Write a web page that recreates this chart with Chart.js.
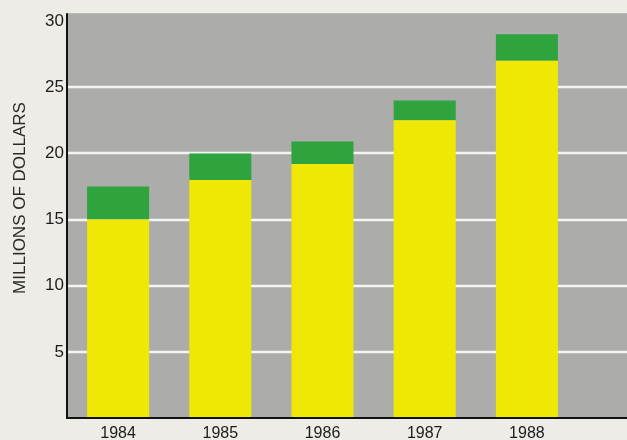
<!DOCTYPE html>
<html>
<head>
<meta charset="utf-8">
<script src="https://cdn.jsdelivr.net/npm/chart.js@4"></script>
<style>
  html, body { margin: 0; padding: 0; background: #edece7; }
  canvas { display: block; }
</style>
</head>
<body>
<canvas id="salesChart" width="627" height="440"></canvas>
<script>
const years = ['1984', '1985', '1986', '1987', '1988'];
const baseRevenue = [15, 18, 19.2, 22.5, 27];
const extraRevenue = [2.5, 2, 1.7, 1.5, 2];
const yTicks = [5, 10, 15, 20, 25, 30];
const yTitle = 'MILLIONS OF DOLLARS';

const FONT = 'Liberation Sans, Arial, sans-serif';

// gray plot panel, white rules and axis lines, run out to the right edge
const panel = {
  id: 'panel',
  beforeDatasetsDraw(chart) {
    const { ctx, chartArea: a, scales: { y } } = chart;
    ctx.save();
    ctx.fillStyle = '#acacaa';
    ctx.fillRect(a.left, a.top, chart.width - a.left, a.bottom - a.top);
    ctx.strokeStyle = '#f4f4f2';
    ctx.lineWidth = 2.5;
    yTicks.filter(v => v < 30).forEach(v => {
      const py = Math.round(y.getPixelForValue(v));
      ctx.beginPath();
      ctx.moveTo(a.left, py);
      ctx.lineTo(chart.width, py);
      ctx.stroke();
    });
    ctx.restore();
  },
  afterDatasetsDraw(chart) {
    const { ctx, chartArea: a } = chart;
    ctx.save();
    ctx.strokeStyle = '#111';
    ctx.lineWidth = 2;
    ctx.beginPath();
    ctx.moveTo(a.left, a.top);
    ctx.lineTo(a.left, a.bottom);
    ctx.lineTo(chart.width, a.bottom);
    ctx.stroke();

    // rotated axis title, sitting a little above the middle of the axis
    ctx.translate(20, 198);
    ctx.rotate(-Math.PI / 2);
    ctx.fillStyle = '#2a2a2a';
    ctx.font = '17px ' + FONT;
    ctx.textAlign = 'center';
    ctx.textBaseline = 'middle';
    ctx.fillText(yTitle, 0, 0);
    ctx.restore();
  }
};

const ctx = document.getElementById('salesChart').getContext('2d');
const salesChart = new Chart(ctx, {
  type: 'bar',
  data: {
    labels: years,
    datasets: [
      {
        label: 'Base',
        data: baseRevenue,
        backgroundColor: '#eee804',
        borderWidth: 0
      },
      {
        label: 'Extra',
        data: extraRevenue,
        backgroundColor: '#2ea33e',
        borderWidth: 0
      }
    ]
  },
  options: {
    responsive: false,
    animation: false,
    layout: { padding: { top: 10, right: 49, left: 0, bottom: 0 } },
    barPercentage: 0.607,
    categoryPercentage: 1,
    plugins: {
      legend: { display: false },
      tooltip: { enabled: false }
    },
    scales: {
      x: {
        stacked: true,
        grid: { display: false, drawTicks: false },
        border: { display: false },
        ticks: {
          color: '#1c1c1c',
          padding: 6,
          font: { family: FONT, size: 16 }
        },
        afterFit(scale) { scale.height = 22; }
      },
      y: {
        stacked: true,
        min: 0,
        max: 30.6,
        bounds: 'data',
        grid: { display: false, drawTicks: false },
        border: { display: false },
        ticks: {
          stepSize: 5,
          includeBounds: false,
          padding: 3,
          color: '#1c1c1c',
          font: { family: FONT, size: 17 },
          callback: v => (v === 0 ? '' : v)
        },
        afterFit(scale) { scale.width = 67; }
      }
    }
  },
  plugins: [panel]
});
</script>
</body>
</html>
